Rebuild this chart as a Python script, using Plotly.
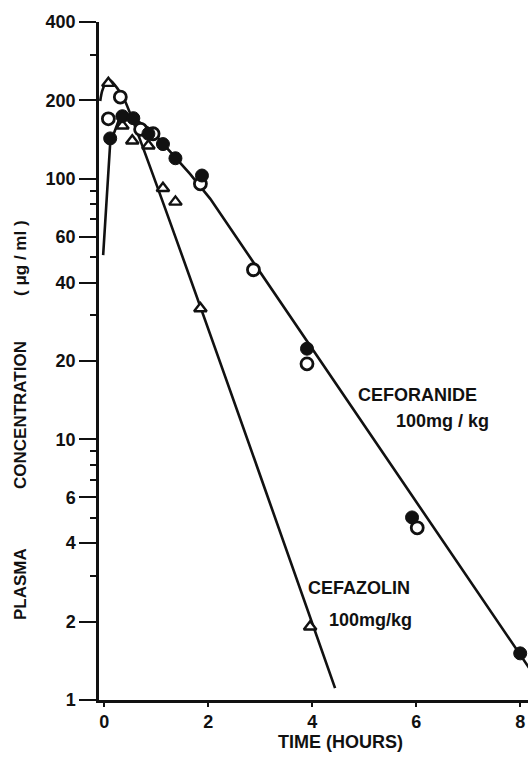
import plotly.graph_objects as go

# ---- data ----
# Ceforanide, filled circles
cefor_a_x = [0.115, 0.35, 0.56, 0.85, 1.13, 1.37, 1.88, 3.9, 5.92, 8.0]
cefor_a_y = [143, 174, 171, 149, 136, 120, 103, 22.3, 5.02, 1.51]
# Ceforanide, open circles
cefor_b_x = [0.08, 0.31, 0.7, 0.94, 1.85, 2.87, 3.9, 6.02]
cefor_b_y = [170, 206, 155, 149, 95.7, 44.8, 19.5, 4.58]
# Cefazolin, open triangles
cefaz_x = [0.08, 0.35, 0.54, 0.85, 1.13, 1.37, 1.85, 3.96]
cefaz_y = [233, 160, 140, 134, 92, 81.6, 31.8, 1.91]

# fitted curves drawn on the original
cefor_fit_x = [-0.02, 0.115, 0.3, 0.56, 0.885, 1.25, 1.65, 2.04, 8.17]
cefor_fit_y = [51, 137, 172, 171, 155, 128.7, 104.5, 83.8, 1.33]
cefaz_fit_x = [-0.077, -0.04, 0.04, 0.115, 0.25, 0.40, 4.44]
cefaz_fit_y = [199, 217, 235, 239, 223, 199, 1.11]

y_major = [1, 2, 4, 6, 10, 20, 40, 60, 100, 200, 400]
y_major_text = ["1", "2", "4", "6", "10", "20", "40", "60", "100", "200", "400"]
y_minor = [3, 5, 7, 8, 9, 30, 50, 70, 80, 90, 300]
x_ticks = [0, 2, 4, 6, 8]

W, H = 529, 759
L, R, T = 99, 1, 22
B = H - 700
PW, PH = W - L - R, H - T - B

def px(x):  # screen pixel -> paper
    return (x - L) / PW

def py(y):
    return (H - B - y) / PH

FONT = "Liberation Sans, Arial, sans-serif"
INK = "#111111"

fig = go.Figure()
fig.add_trace(go.Scatter(x=cefor_fit_x, y=cefor_fit_y, mode="lines",
                         line=dict(color=INK, width=2.6), hoverinfo="skip"))
fig.add_trace(go.Scatter(x=cefaz_fit_x, y=cefaz_fit_y, mode="lines",
                         line=dict(color=INK, width=2.6, shape="spline", smoothing=0.6),
                         hoverinfo="skip"))
fig.add_trace(go.Scatter(x=cefaz_x, y=cefaz_y, mode="markers", cliponaxis=False,
                         marker=dict(symbol="triangle-up", size=11, color="white",
                                     line=dict(color=INK, width=2.4))))
fig.add_trace(go.Scatter(x=cefor_b_x, y=cefor_b_y, mode="markers", cliponaxis=False,
                         marker=dict(symbol="circle", size=12, color="white",
                                     line=dict(color=INK, width=2.8))))
fig.add_trace(go.Scatter(x=cefor_a_x, y=cefor_a_y, mode="markers", cliponaxis=False,
                         marker=dict(symbol="circle", size=13, color=INK,
                                     line=dict(color=INK, width=1))))

ann = dict(xref="paper", yref="paper", showarrow=False,
           font=dict(family=FONT, size=18, color=INK, weight="bold"),
           xanchor="center", yanchor="middle")
texts = [
    ("CEFORANIDE", 417, 395),
    ("100mg / kg", 442, 421),
    ("CEFAZOLIN", 359, 588),
    ("100mg/kg", 370, 620),
    ("TIME (HOURS)", 340, 742),
]
for t, x, y in texts:
    fig.add_annotation(text=t, x=px(x), y=py(y), **ann)
ytitle = [("PLASMA", 20, 584), ("CONCENTRATION", 20, 415), ("( μg / ml )", 20, 258)]
for t, x, y in ytitle:
    a2 = dict(ann)
    a2["font"] = dict(family=FONT, size=17, color=INK, weight="bold")
    fig.add_annotation(text=t, x=px(x), y=py(y), textangle=-90, **a2)

fig.update_layout(
    width=W, height=H, margin=dict(l=L, r=R, t=T, b=B),
    paper_bgcolor="white", plot_bgcolor="white", showlegend=False,
    xaxis=dict(range=[-0.1, 8.15], tickvals=x_ticks, ticks="outside", ticklen=4,
               tickwidth=2, tickcolor=INK, showline=True, linecolor=INK, linewidth=2.5,
               showgrid=False, zeroline=False, ticklabeloverflow="allow",
               tickfont=dict(family=FONT, size=18, color=INK, weight="bold")),
    yaxis=dict(type="log", range=[0, 2.60206], tickvals=y_major, ticktext=y_major_text,
               ticks="outside", ticklen=17, tickwidth=2, tickcolor=INK,
               showline=True, linecolor=INK, linewidth=2.5, showgrid=False, zeroline=False,
               ticklabeloverflow="allow",
               tickfont=dict(family=FONT, size=18, color=INK, weight="bold"),
               minor=dict(tickvals=y_minor, ticks="outside", ticklen=6, tickwidth=2,
                          tickcolor=INK, showgrid=False)),
)
# remove the default 8 px page margin so the figure fills the window exactly
fig.write_html("out.html",
               config={"displayModeBar": False},
               post_script="document.body.style.margin='0';"
                           "document.body.style.overflow='hidden';")
